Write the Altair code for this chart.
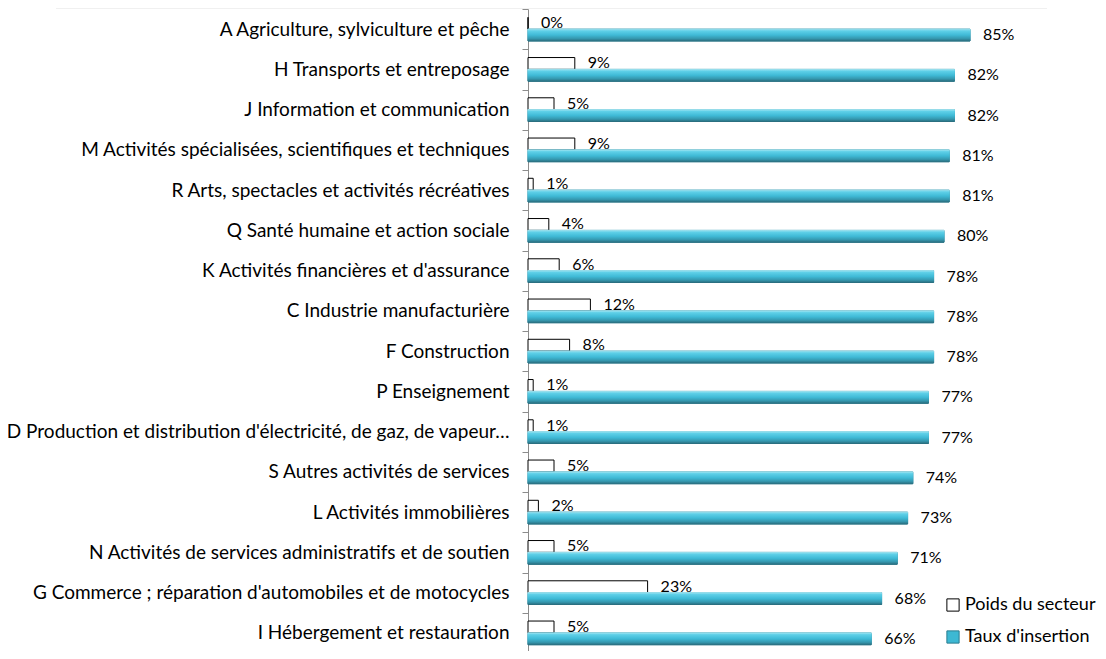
import altair as alt
import pandas as pd

categories = [
    "A Agriculture, sylviculture et pêche",
    "H Transports et entreposage",
    "J Information et communication",
    "M Activités spécialisées, scientifiques et techniques",
    "R Arts, spectacles et activités récréatives",
    "Q Santé humaine et action sociale",
    "K Activités financières et d'assurance",
    "C Industrie manufacturière",
    "F Construction",
    "P Enseignement",
    "D Production et distribution d'électricité, de gaz, de vapeur…",
    "S Autres activités de services",
    "L Activités immobilières",
    "N Activités de services administratifs et de soutien",
    "G Commerce ; réparation d'automobiles et de motocycles",
    "I Hébergement et restauration",
]
poids = [0, 9, 5, 9, 1, 4, 6, 12, 8, 1, 1, 5, 2, 5, 23, 5]
taux = [85, 82, 82, 81, 81, 80, 78, 78, 78, 77, 77, 74, 73, 71, 68, 66]
series = ["Poids du secteur", "Taux d'insertion"]

rows = []
for c, p, t in zip(categories, poids, taux):
    rows.append({"cat": c, "serie": series[0], "value": p, "label": f"{p}%"})
    rows.append({"cat": c, "serie": series[1], "value": t, "label": f"{t}%"})
df = pd.DataFrame(rows)

FONT = "Lato"

y_enc = alt.Y("cat:N", sort=categories, title=None,
              scale=alt.Scale(paddingInner=0, paddingOuter=0, range=[0, 644]),
              axis=alt.Axis(labelFontSize=19, labelLimit=700, labelPadding=13,
                            tickSize=6, tickBand="extent", tickColor="#8c8c8c",
                            domainColor="#8c8c8c", labelColor="#000000",
                            labelFont=FONT))
yoff = alt.YOffset("serie:N", sort=series,
                   scale=alt.Scale(paddingInner=0, paddingOuter=0.7))
x_enc = alt.X("value:Q", scale=alt.Scale(domain=[0, 100], nice=False), axis=None)

band = alt.Chart(pd.DataFrame({"a": [0]})).mark_rect(color="#f0f0f0").encode(
    x=alt.value(-472), x2=alt.value(519), y=alt.value(-12), y2=alt.value(0)
)

bars = alt.Chart(df).mark_bar(strokeWidth=1).encode(
    y=y_enc, yOffset=yoff, x=x_enc,
    fill=alt.Fill("serie:N", sort=series,
                  scale=alt.Scale(domain=series, range=["#ffffff", "#3db8d3"]),
                  legend=alt.Legend(title=None, orient="none", legendX=416, legendY=587,
                                    symbolType="square", symbolSize=150,
                                    labelFontSize=18, labelFont=FONT, labelColor="#000000",
                                    rowPadding=14, symbolStrokeWidth=1, labelOffset=3)),
    stroke=alt.Stroke("serie:N", sort=series,
                      scale=alt.Scale(domain=series, range=["#000000", "#2b7d90"]),
                      legend=None),
)

grad = alt.Gradient(
    gradient="linear", x1=0, x2=0, y1=0, y2=1,
    stops=[
        alt.GradientStop(offset=0, color="#9fe4f1"),
        alt.GradientStop(offset=0.15, color="#5fd0e8"),
        alt.GradientStop(offset=0.5, color="#3fbad6"),
        alt.GradientStop(offset=0.8, color="#3597ae"),
        alt.GradientStop(offset=1, color="#2a6f80"),
    ],
)

overlay = alt.Chart(df).transform_filter(
    alt.datum.serie == series[1]
).mark_bar(fill=grad, stroke=grad, strokeWidth=1).encode(
    y=y_enc, yOffset=yoff, x=x_enc
)

labels = alt.Chart(df).mark_text(align="left", baseline="middle", dx=13,
                                 fontSize=16, font=FONT, color="#000000").encode(
    y=y_enc, yOffset=yoff, x=x_enc, text="label:N"
)

chart = alt.layer(band, bars, overlay, labels).properties(
    width=520, height=642,
    autosize=alt.AutoSizeParams(type="none"),
    padding={"left": 520, "top": 1, "right": 50, "bottom": 0},
).configure_view(stroke=None)

chart.save("out.html", embed_options={"renderer": "svg", "actions": False})
